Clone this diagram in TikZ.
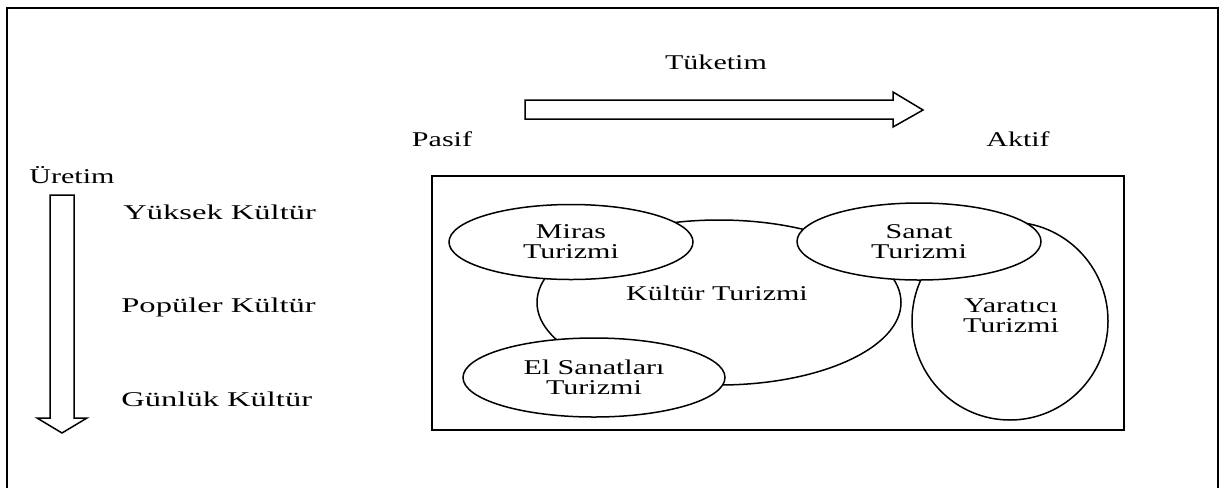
\documentclass[tikz,border=0pt]{standalone}
\usepackage{fontspec}
\setmainfont{Liberation Serif}[FakeStretch=1.43]
\newfontfamily\widefont{Liberation Serif}[FakeStretch=1.55]
\usetikzlibrary{shapes.geometric}
\begin{document}
\begin{tikzpicture}[x=0.5pt,y=-0.5pt,
  line join=miter,
  txt/.style={inner sep=0pt,font=\fontsize{10.5}{10}\selectfont},
  sidetxt/.style={inner sep=0pt,anchor=base west,font=\widefont\fontsize{10.5}{10}\selectfont},
  oval/.style={ellipse,draw,fill=white,line width=0.75pt,inner sep=0pt,align=center,
    font=\fontsize{10.5}{10}\selectfont},
  blockarrow/.style={draw,fill=white,line width=0.75pt}]
% page size
\useasboundingbox (0,0) rectangle (1220,488);
% open frame
\draw[line width=1pt] (7,488) -- (7,8) -- (1218,8) -- (1218,488);

% consumption axis
\node[txt,anchor=base] (tuk) at (716,69) {Tüketim};
\draw[blockarrow] (525,100) -- (893,100) -- (893,92) -- (923,110) -- (893,127)
  -- (893,119) -- (525,119) -- cycle;
\node[txt,anchor=base] (pasif) at (442,146) {Pasif};
\node[txt,anchor=base] (aktif) at (1018,146) {Aktif};

% production axis
\node[txt,anchor=base] (uret) at (72,183) {Üretim};
\draw[blockarrow] (50,195) -- (74,195) -- (74,418) -- (87,418) -- (62,433)
  -- (37,418) -- (50,418) -- cycle;
\node[sidetxt] (yuksek) at (123,219) {Yüksek Kültür};
\node[sidetxt] (populer) at (121,312) {Popüler Kültür};
\node[sidetxt] (gunluk) at (121,406) {Günlük Kültür};

% tourism types
\draw[line width=1pt] (432,176) rectangle (1124,430);
\node[oval,minimum width=182pt,minimum height=82.5pt] (kultur) at (719,302.5) {};
\node[txt,anchor=base] (kulturtxt) at (717,300) {Kültür Turizmi};
\node[oval,minimum width=98pt,minimum height=99pt] (yaratici) at (1010,321) {};
\node[txt,align=center] (yaratxt) at (1011,316) {Yaratıcı\\Turizmi};
\node[oval,minimum width=122pt,minimum height=37.5pt] (miras) at (571,242) {Miras\\Turizmi};
\node[oval,minimum width=131pt,minimum height=39.5pt] (el) at (594,377.5) {El Sanatları\\Turizmi};
\node[oval,minimum width=122pt,minimum height=38.5pt] (sanat) at (919,241.5) {Sanat\\Turizmi};
\end{tikzpicture}
\end{document}
